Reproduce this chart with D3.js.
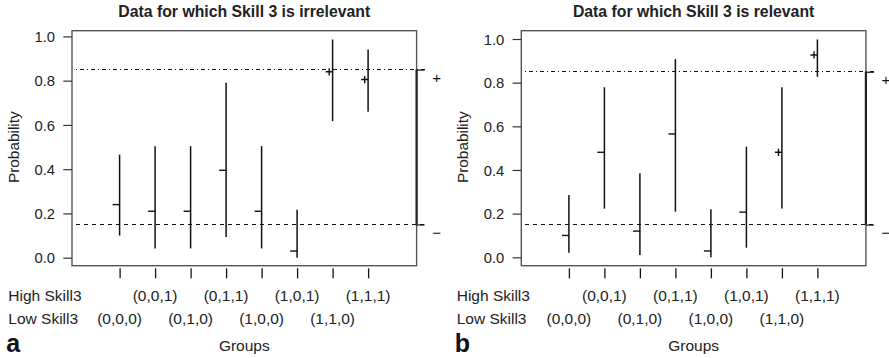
<!DOCTYPE html>
<html>
<head>
<meta charset="utf-8">
<script src="https://cdn.jsdelivr.net/npm/d3@7"></script>
<style>
  html, body { margin: 0; padding: 0; background: #fff; }
  svg { display: block; font-family: "Liberation Sans", Arial, Helvetica, sans-serif; }
</style>
</head>
<body>
<svg id="chart" width="889" height="358"></svg>
<script>
// Skill profiles (Skill1, Skill2, Skill3), one per group
const groups = ["(0,0,0)", "(0,0,1)", "(0,1,0)", "(0,1,1)", "(1,0,0)", "(1,0,1)", "(1,1,0)", "(1,1,1)"];
// Expected sign of each group's response: "+" mastery, "-" non-mastery
const groupSign = ["-", "-", "-", "-", "-", "-", "+", "+"];

// Panel a: Skill 3 irrelevant
const irrMean = [0.24, 0.21, 0.21, 0.395, 0.21, 0.03, 0.84, 0.805];
const irrLow  = [0.10, 0.042, 0.042, 0.093, 0.042, 0.0, 0.617, 0.659];
const irrHigh = [0.466, 0.504, 0.504, 0.79, 0.504, 0.217, 0.986, 0.941];

// Panel b: Skill 3 relevant
const relMean = [0.10, 0.481, 0.12, 0.565, 0.029, 0.207, 0.481, 0.927];
const relLow  = [0.021, 0.223, 0.011, 0.209, 0.0, 0.044, 0.223, 0.827];
const relHigh = [0.285, 0.779, 0.385, 0.908, 0.22, 0.507, 0.779, 0.998];

const yTicks = [0, 0.2, 0.4, 0.6, 0.8, 1.0];
const cutLow = 0.15;   // non-mastery reference
const cutHigh = 0.85;  // mastery reference
const cutLabels = ["\u2212", "+"];

const svg = d3.select("#chart");
const boxW = 344.6, boxH = 235;

function drawPanel(opts) {
  const g = svg.append("g").attr("transform", `translate(${opts.left},${opts.top})`);
  const x = d3.scaleLinear().domain([1, 8]).range([47.6, 296.1]);
  const y = d3.scaleLinear().domain([0, 1]).range(opts.yRange);
  const data = groups.map((name, i) => ({
    i: i + 1, name, sign: groupSign[i],
    mean: opts.mean[i], lo: opts.low[i], hi: opts.high[i]
  }));

  // title
  g.append("text")
    .attr("x", boxW / 2).attr("y", -13.4)
    .attr("text-anchor", "middle")
    .attr("font-weight", "bold").attr("font-size", 15.8)
    .attr("fill", "#222")
    .text(opts.title);

  // reference lines
  g.append("line")
    .attr("x1", 4).attr("x2", boxW + 8)
    .attr("y1", y(cutHigh)).attr("y2", y(cutHigh))
    .attr("stroke", "#111").attr("stroke-width", 1.2)
    .attr("shape-rendering", "crispEdges")
    .attr("stroke-dasharray", "1,3,4,3");
  g.append("line")
    .attr("x1", 4).attr("x2", boxW + 8)
    .attr("y1", y(cutLow)).attr("y2", y(cutLow))
    .attr("stroke", "#111").attr("stroke-width", 1.2)
    .attr("shape-rendering", "crispEdges")
    .attr("stroke-dasharray", "4,4");

  // box
  g.append("rect")
    .attr("x", 0).attr("y", 0).attr("width", boxW).attr("height", boxH)
    .attr("fill", "none").attr("stroke", "#555").attr("stroke-width", 1.4);

  // right-hand axis marking the two reference levels
  const right = d3.axisRight(y).tickValues([cutLow, cutHigh]).tickSize(8).tickFormat("");
  const ra = g.append("g").attr("transform", `translate(${boxW},0)`).call(right);
  ra.select(".domain").remove();
  ra.selectAll(".tick line").attr("stroke", "#111").attr("stroke-width", 1.2);
  g.append("line")
    .attr("x1", boxW).attr("x2", boxW)
    .attr("y1", y(cutLow)).attr("y2", y(cutHigh))
    .attr("stroke", "#222").attr("stroke-width", 2.2);
  g.selectAll("text.cut")
    .data([cutLow, cutHigh])
    .join("text")
    .attr("class", "cut")
    .attr("x", boxW + 20)
    .attr("y", (d) => y(d) + 8.5 + 5.2)
    .attr("text-anchor", "middle")
    .attr("font-size", 15)
    .attr("fill", "#111")
    .text((d, i) => cutLabels[i]);

  // y axis
  const left = d3.axisLeft(y).tickValues(yTicks).tickSize(8.7).tickFormat(d3.format(".1f"));
  const la = g.append("g").call(left);
  la.select(".domain").remove();
  la.selectAll(".tick line").attr("stroke", "#333").attr("stroke-width", 1.2);
  la.selectAll(".tick text")
    .attr("x", -17).attr("dy", null).attr("y", 5.2)
    .attr("font-size", 14.8).attr("fill", "#222")
    .attr("font-family", "Liberation Sans, Arial, sans-serif");

  g.append("text")
    .attr("transform", `translate(${opts.yLabelX},${boxH / 2 - 1}) rotate(-90)`)
    .attr("text-anchor", "middle")
    .attr("font-size", 15.4).attr("fill", "#222")
    .text("Probability");

  // x axis ticks below box
  const bottom = d3.axisBottom(x).tickValues(d3.range(1, 9)).tickSize(10).tickFormat("");
  const ba = g.append("g").attr("transform", `translate(0,${boxH + 2.6})`).call(bottom);
  ba.select(".domain").remove();
  ba.selectAll(".tick line").attr("stroke", "#111").attr("stroke-width", 1.3);

  // group labels: high Skill3 on the upper row, low Skill3 on the lower row
  const rowHigh = 301.5 - opts.top, rowLow = 324 - opts.top;
  g.selectAll("text.grp")
    .data(data)
    .join("text")
    .attr("class", "grp")
    .attr("x", (d) => x(d.i))
    .attr("y", (d) => d.name.charAt(5) === "1" ? rowHigh : rowLow)
    .attr("text-anchor", "middle")
    .attr("font-size", 15.5).attr("fill", "#222")
    .text((d) => d.name);
  g.append("text").attr("x", opts.rowLabelX).attr("y", rowHigh)
    .attr("font-size", 15.5).attr("fill", "#222").text("High Skill3");
  g.append("text").attr("x", opts.rowLabelX).attr("y", rowLow)
    .attr("font-size", 15.5).attr("fill", "#222").text("Low Skill3");
  g.append("text").attr("x", boxW / 2).attr("y", 351 - opts.top)
    .attr("text-anchor", "middle")
    .attr("font-size", 15.5).attr("fill", "#222").text("Groups");
  g.append("text").attr("x", opts.rowLabelX - 2).attr("y", 352 - opts.top)
    .attr("font-size", 25).attr("font-weight", "bold").attr("fill", "#111")
    .text(opts.tag);

  // intervals
  g.selectAll("line.iv")
    .data(data)
    .join("line")
    .attr("class", "iv")
    .attr("x1", (d) => x(d.i)).attr("x2", (d) => x(d.i))
    .attr("y1", (d) => y(d.lo)).attr("y2", (d) => y(d.hi))
    .attr("stroke", "#111").attr("stroke-width", 1.5);

  // mean markers, drawn just left of each interval
  const half = 3.6, off = 3.4;
  g.selectAll("path.mk")
    .data(data)
    .join("path")
    .attr("class", "mk")
    .attr("d", (d) => {
      const cx = x(d.i) - off, cy = y(d.mean);
      let p = `M${cx - half},${cy}H${cx + half}`;
      if (d.sign === "+") p += `M${cx},${cy - half}V${cy + half}`;
      return p;
    })
    .attr("fill", "none").attr("stroke", "#111").attr("stroke-width", 1.4);
}

drawPanel({
  left: 72, top: 30.7, yRange: [227, 5.7],
  mean: irrMean, low: irrLow, high: irrHigh,
  title: "Data for which Skill 3 is irrelevant",
  yLabelX: -53, rowLabelX: -63.7, tag: "a"
});
drawPanel({
  left: 521.3, top: 30.7, yRange: [226.6, 8.3],
  mean: relMean, low: relLow, high: relHigh,
  title: "Data for which Skill 3 is relevant",
  yLabelX: -53, rowLabelX: -64.6, tag: "b"
});
</script>
</body>
</html>
